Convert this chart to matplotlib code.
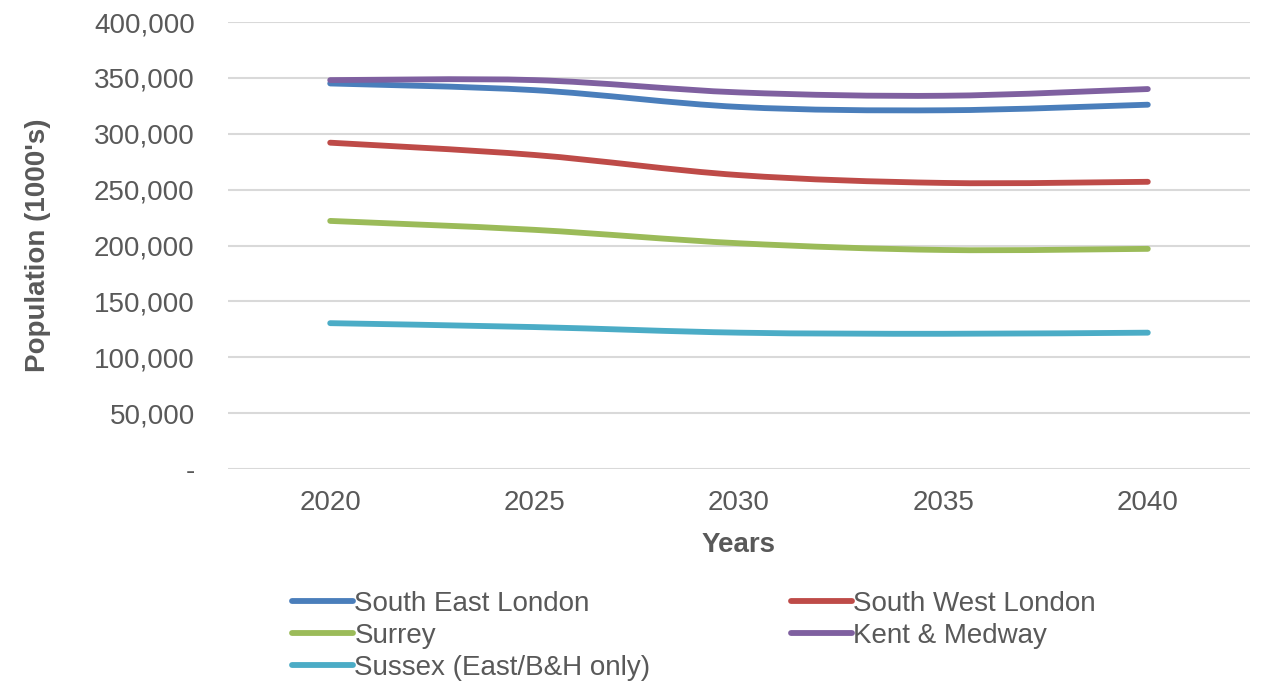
import matplotlib
matplotlib.use("Agg")
import matplotlib.pyplot as plt
from matplotlib.path import Path
from matplotlib.patches import PathPatch
from matplotlib.lines import Line2D
from matplotlib.ticker import FuncFormatter

plt.rcParams['font.family'] = ['Liberation Sans', 'DejaVu Sans']

years = ["2020", "2025", "2030", "2035", "2040"]
south_east_london = [345000, 339000, 324000, 321000, 326000]
south_west_london = [292000, 281000, 263000, 256000, 257000]
surrey = [222000, 214000, 202000, 196000, 197000]
kent_medway = [348000, 348000, 337000, 334000, 340000]
sussex = [130500, 127000, 122000, 121000, 122000]

series_names = ["South East London", "South West London", "Surrey",
                "Kent & Medway", "Sussex (East/B&H only)"]
series_values = [south_east_london, south_west_london, surrey,
                 kent_medway, sussex]
colors = ["#4A7EBB", "#BE4B48", "#9BBB59", "#7F60A0", "#4BACC6"]

text_grey = "#595959"
grid_grey = "#D9D9D9"
lw = 4.2

fig = plt.figure(figsize=(12.61, 6.83), dpi=100)
ax = fig.add_axes([228 / 1261, (683 - 469) / 683, 1022 / 1261, 447 / 683])


def smooth_path(xs, ys):
    """Cubic Bezier path through the points (Catmull-Rom style smoothing)."""
    pts = list(zip(xs, ys))
    n = len(pts)
    verts = [pts[0]]
    codes = [Path.MOVETO]
    for i in range(n - 1):
        p0 = pts[i - 1] if i > 0 else pts[i]
        p1 = pts[i]
        p2 = pts[i + 1]
        p3 = pts[i + 2] if i + 2 < n else pts[i + 1]
        c1 = (p1[0] + (p2[0] - p0[0]) / 6, p1[1] + (p2[1] - p0[1]) / 6)
        c2 = (p2[0] - (p3[0] - p1[0]) / 6, p2[1] - (p3[1] - p1[1]) / 6)
        verts += [c1, c2, p2]
        codes += [Path.CURVE4] * 3
    return Path(verts, codes)


xpos = list(range(len(years)))
handles = {}
for name, vals, col in zip(series_names, series_values, colors):
    patch = PathPatch(smooth_path(xpos, vals), facecolor="none", edgecolor=col,
                      lw=lw, capstyle="round", joinstyle="round", zorder=3)
    ax.add_patch(patch)
    handles[name] = Line2D([], [], color=col, lw=lw, solid_capstyle="round")

ax.set_xlim(-0.5, len(years) - 0.5)
ax.set_ylim(0, 400000)
ax.set_xticks(xpos)
ax.set_xticklabels(years)
ax.set_yticks(range(0, 400001, 50000))
ax.yaxis.set_major_formatter(
    FuncFormatter(lambda v, p: "-" if v == 0 else f"{int(v):,}"))

ax.grid(axis="y", color=grid_grey, lw=1.5, zorder=0)
ax.set_axisbelow(True)
for s in ax.spines.values():
    s.set_visible(False)
ax.tick_params(axis="both", length=0, labelsize=20, labelcolor=text_grey)
ax.tick_params(axis="y", pad=24)
ax.tick_params(axis="x", pad=15)

ax.set_xlabel("Years", fontsize=20, fontweight="bold", color=text_grey,
              labelpad=12)
ax.set_ylabel("Population (1000's)", fontsize=20, fontweight="bold",
              color=text_grey, labelpad=31)

order = ["South East London", "Surrey", "Sussex (East/B&H only)",
         "South West London", "Kent & Medway"]
leg = fig.legend([handles[k] for k in order], order, ncol=2,
                 loc="upper left", bbox_to_anchor=(292 / 1261, 1 - 591 / 683),
                 frameon=False, fontsize=20, handlelength=2.2,
                 handletextpad=0.05, columnspacing=5.05, labelspacing=0.21,
                 borderpad=0, borderaxespad=0)
for t in leg.get_texts():
    t.set_color(text_grey)

fig.savefig("out.png", dpi=100)
